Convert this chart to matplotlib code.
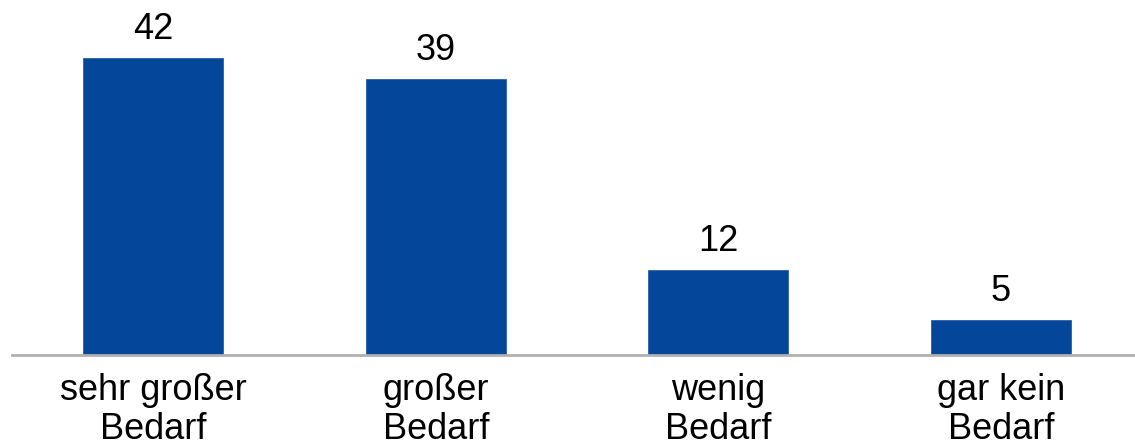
import matplotlib
matplotlib.use("Agg")
import matplotlib.pyplot as plt

# Daten
kategorien = ["sehr großer\nBedarf", "großer\nBedarf", "wenig\nBedarf", "gar kein\nBedarf"]
werte = [42, 39, 12, 5]

plt.rcParams["font.family"] = ["Liberation Sans", "DejaVu Sans"]

fig = plt.figure(figsize=(11.35, 4.48), dpi=100)
ax = fig.add_axes([12 / 1135, 93 / 448, 1 - 12 / 1135, 355 / 448])

x = range(len(werte))
bars = ax.bar(x, werte, width=0.496, color="#03469A", edgecolor="#2a5fa8", linewidth=0.6, zorder=2)

for b, v in zip(bars, werte):
    ax.annotate(str(v), (b.get_x() + b.get_width() / 2, v), xytext=(0, 13.5),
                textcoords="offset points", ha="center", va="baseline", fontsize=26)

ax.set_xlim(-0.5, 3.475)
ax.set_ylim(0, 50.2)
ax.set_xticks(list(x))
ax.set_xticklabels(kategorien, fontsize=26, linespacing=1.13)
ax.tick_params(axis="x", length=0, pad=13)
ax.set_yticks([])
for s in ["top", "right", "left"]:
    ax.spines[s].set_visible(False)
ax.spines["bottom"].set_color("#b0b0b0")
ax.spines["bottom"].set_linewidth(2)

fig.savefig("out.png", dpi=100)
